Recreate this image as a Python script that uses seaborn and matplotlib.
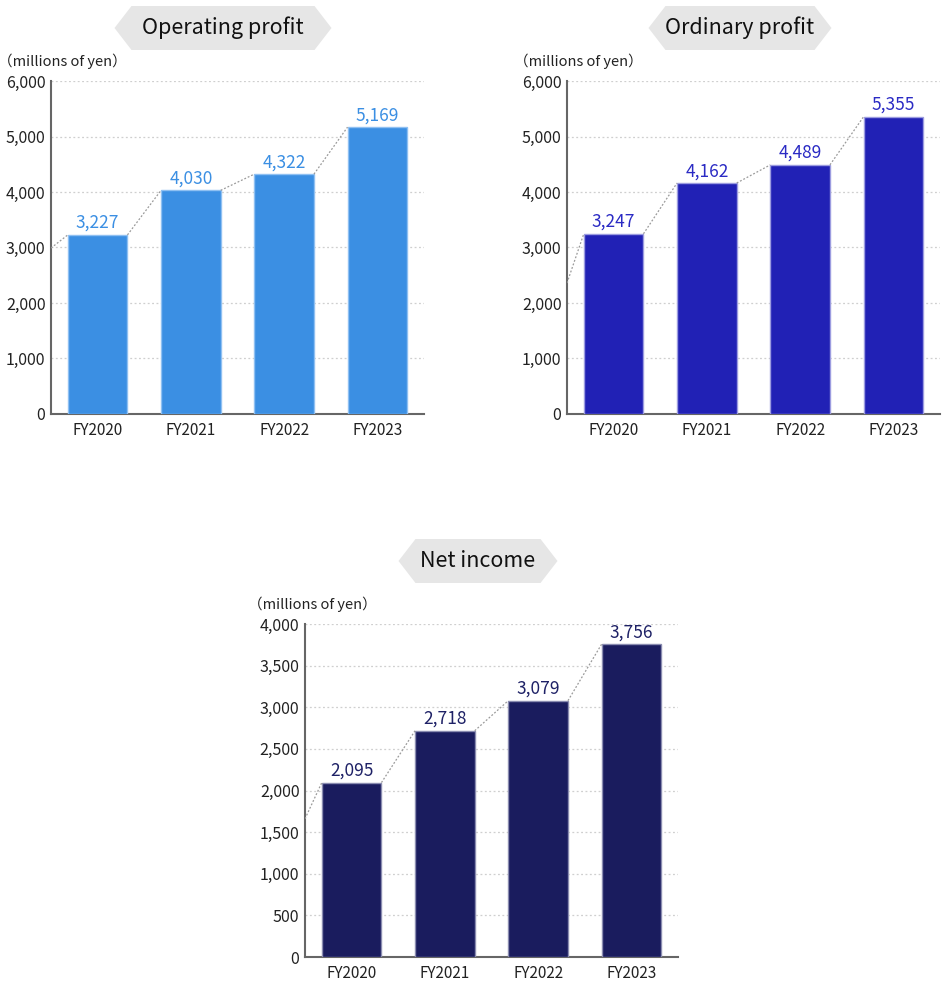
import matplotlib
matplotlib.use("Agg")
import matplotlib.pyplot as plt
from matplotlib.patches import Polygon
from matplotlib.ticker import FuncFormatter, FixedLocator
import pandas as pd
import seaborn as sns

years = ["FY2020", "FY2021", "FY2022", "FY2023"]
operating_profit = [3227, 4030, 4322, 5169]
ordinary_profit = [3247, 4162, 4489, 5355]
net_income = [2095, 2718, 3079, 3756]
# value where the dotted trend line enters at the left edge (previous year, clipped)
edge_start = {"op": 2990, "ord": 2360, "net": 1660}

sns.set_style("white")
plt.rcParams["font.family"] = ["Noto Sans CJK JP", "DejaVu Sans"]

W, H = 943, 1000
fig = plt.figure(figsize=(W / 100, H / 100), dpi=100)


def px_axes(left, top, right, bottom):
    return fig.add_axes([left / W, 1 - bottom / H, (right - left) / W, (bottom - top) / H])


def banner(cx, cy, w, text):
    hh, slant = 22, 17
    x0, x1 = cx - w / 2, cx + w / 2
    pts = [(x0, cy), (x0 + slant, cy - hh), (x1 - slant, cy - hh),
           (x1, cy), (x1 - slant, cy + hh), (x0 + slant, cy + hh)]
    pts = [(x / W, 1 - y / H) for x, y in pts]
    fig.patches.append(Polygon(pts, closed=True, transform=fig.transFigure,
                               facecolor="#e6e6e6", edgecolor="none"))
    fig.text(cx / W, 1 - cy / H, text, ha="center", va="center",
             fontsize=15.5, color="#111111")


def panel(ax, values, ymax, ystep, color, edge, label_color, start):
    df = pd.DataFrame({"year": years, "value": values})
    sns.barplot(data=df, x="year", y="value", color=color, width=0.64,
                edgecolor=edge, linewidth=1, saturation=1, ax=ax, zorder=3)
    ax.set_xlim(-0.5, 3.5)
    ax.set_ylim(0, ymax)
    ax.set_xlabel("")
    ax.set_ylabel("")
    yt = list(range(0, ymax + 1, ystep))
    ax.set_yticks(yt)
    ax.yaxis.set_major_formatter(FuncFormatter(lambda v, p: f"{int(v):,}"))
    for y in yt[1:]:
        ax.axhline(y, color="#cfcfcf", lw=0.9, ls=(0, (1.5, 2)), zorder=1)
    ax.tick_params(axis="y", direction="in", length=8, width=1.3, color="#555555",
                   labelsize=11.5, pad=4, labelcolor="#222222")
    ax.tick_params(axis="x", which="major", length=0, labelsize=11, pad=6,
                   labelcolor="#222222")
    ax.xaxis.set_minor_locator(FixedLocator([0.5, 1.5, 2.5, 3.5]))
    ax.tick_params(axis="x", which="minor", direction="in", length=8, width=1.1,
                   color="#333333")
    for s in ("top", "right"):
        ax.spines[s].set_visible(False)
    for s in ("left", "bottom"):
        ax.spines[s].set_color("#666666")
        ax.spines[s].set_linewidth(1.5)
    # dotted trend line linking bar tops
    hw = 0.32
    ax.plot([-0.5, -hw], [start, values[0]], color="#9a9a9a", lw=0.9,
            ls=(0, (1.5, 1.5)), zorder=4)
    for i in range(len(values) - 1):
        ax.plot([i + hw, i + 1 - hw], [values[i], values[i + 1]],
                color="#9a9a9a", lw=0.9, ls=(0, (1.5, 1.5)), zorder=4)
    ax.bar_label(ax.containers[0], labels=[f"{v:,}" for v in values], padding=2,
                 color=label_color, fontsize=12.5)
    ax.set_facecolor("none")


ax1 = px_axes(51, 81, 424, 414)
panel(ax1, operating_profit, 6000, 1000, "#3b8fe3", "#8fc0f2", "#3b8fe3", edge_start["op"])
ax2 = px_axes(567, 81, 940, 414)
panel(ax2, ordinary_profit, 6000, 1000, "#2121b5", "#9c9ce0", "#2b2bc4", edge_start["ord"])
ax3 = px_axes(305, 624, 678, 957)
panel(ax3, net_income, 4000, 500, "#1a1c5e", "#8a8cb0", "#1e2166", edge_start["net"])

banner(223, 28, 217, "Operating profit")
banner(740, 28, 183, "Ordinary profit")
banner(478, 561, 159, "Net income")

for x, y in [(-2, 61), (514, 61), (248, 604)]:
    fig.text(x / W, 1 - y / H, "（millions of yen）", fontsize=10.5,
             color="#222222", va="center")

fig.savefig("out.png", dpi=100, facecolor="white")
